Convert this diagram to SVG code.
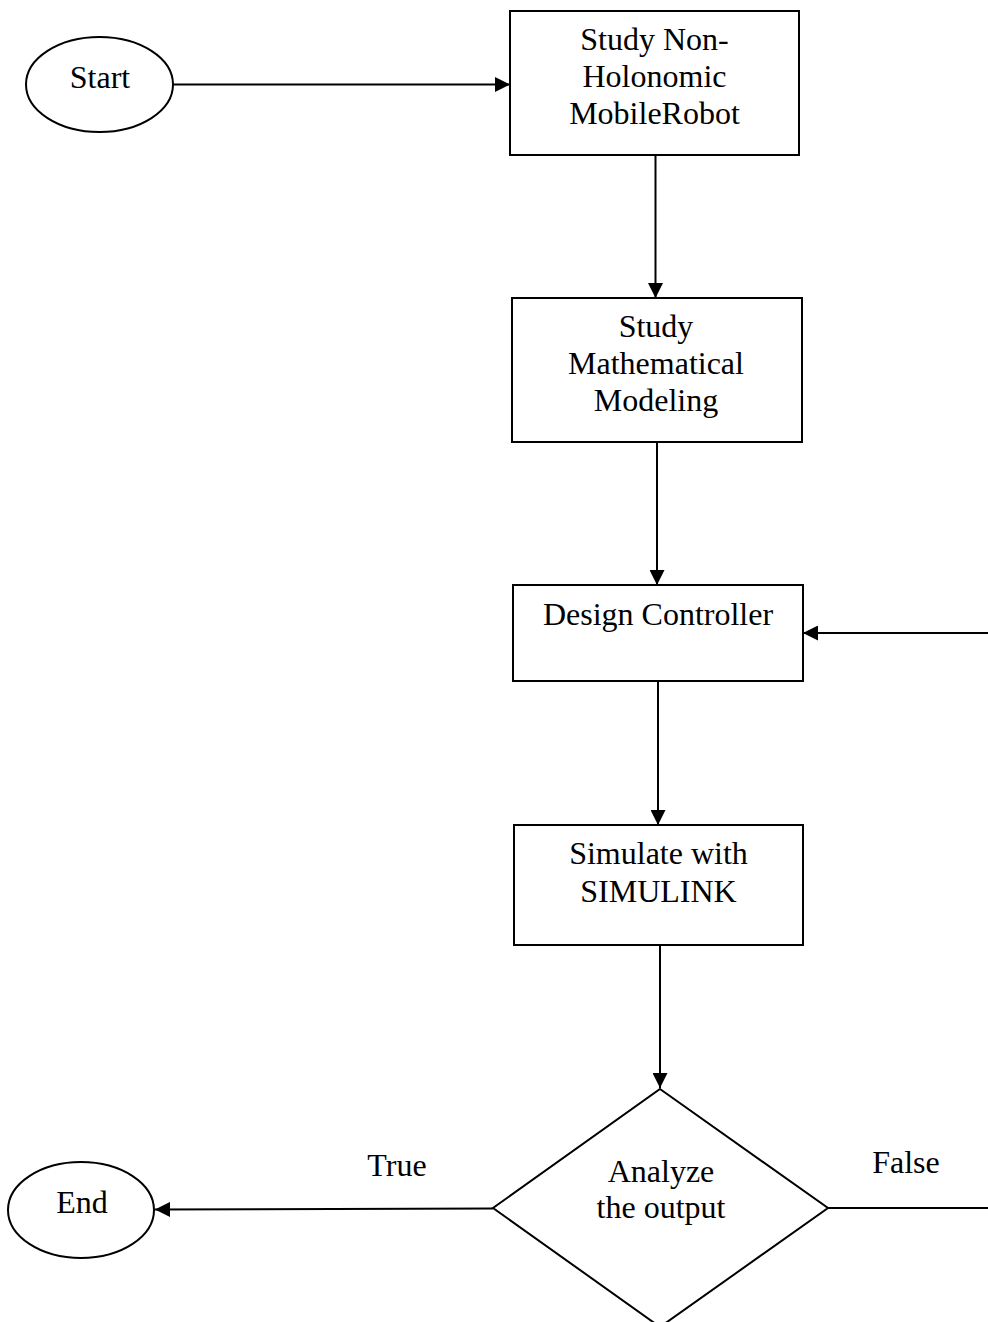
<svg xmlns="http://www.w3.org/2000/svg" width="988" height="1322" viewBox="0 0 988 1322">
<style>
.shape{fill:#fff;stroke:#000;stroke-width:2}
.conn{fill:none;stroke:#000;stroke-width:2}
text{font-family:"Liberation Serif","Times New Roman",serif;font-size:32px;fill:#000;text-anchor:middle}
</style>
<defs>
<marker id="arr" viewBox="0 0 15 15" refX="15" refY="7.5" markerWidth="15" markerHeight="15" markerUnits="userSpaceOnUse" orient="auto">
<path d="M0,0 L15,7.5 L0,15 Z" fill="#000"/>
</marker>
</defs>
<rect width="988" height="1322" fill="#fff"/>
<g id="connectors">
<line class="conn" x1="173" y1="84.5" x2="510" y2="84.5" marker-end="url(#arr)"/>
<line class="conn" x1="655.5" y1="155" x2="655.5" y2="298" marker-end="url(#arr)"/>
<line class="conn" x1="657" y1="442" x2="657" y2="585" marker-end="url(#arr)"/>
<line class="conn" x1="658" y1="681" x2="658" y2="825" marker-end="url(#arr)"/>
<line class="conn" x1="660" y1="945" x2="660" y2="1088" marker-end="url(#arr)"/>
<line class="conn" x1="493" y1="1208.5" x2="155" y2="1209.5" marker-end="url(#arr)"/>
<polyline class="conn" points="828,1208 988,1208"/>
<line class="conn" x1="988" y1="633" x2="803" y2="633" marker-end="url(#arr)"/>
<text x="397" y="1176">True</text>
<text x="906" y="1173">False</text>
</g>
<g id="start">
<ellipse class="shape" cx="99.5" cy="84.5" rx="73.5" ry="47.5"/>
<text x="100" y="88">Start</text>
</g>
<g id="study-robot">
<rect class="shape" x="510" y="11" width="289" height="144"/>
<text x="654.5" y="50">Study Non-</text>
<text x="654.5" y="87">Holonomic</text>
<text x="654.5" y="124">MobileRobot</text>
</g>
<g id="study-math">
<rect class="shape" x="512" y="298" width="290" height="144"/>
<text x="656" y="337">Study</text>
<text x="656" y="374">Mathematical</text>
<text x="656" y="411">Modeling</text>
</g>
<g id="design">
<rect class="shape" x="513" y="585" width="290" height="96"/>
<text x="658" y="625">Design Controller</text>
</g>
<g id="simulate">
<rect class="shape" x="514" y="825" width="289" height="120"/>
<text x="658.5" y="864">Simulate with</text>
<text x="658.5" y="902">SIMULINK</text>
</g>
<g id="analyze">
<polygon class="shape" points="660,1089 828,1208 660,1327 493,1208"/>
<text x="661" y="1182">Analyze</text>
<text x="661" y="1218">the output</text>
</g>
<g id="end">
<ellipse class="shape" cx="81" cy="1210" rx="73" ry="48"/>
<text x="82" y="1213">End</text>
</g>
</svg>
